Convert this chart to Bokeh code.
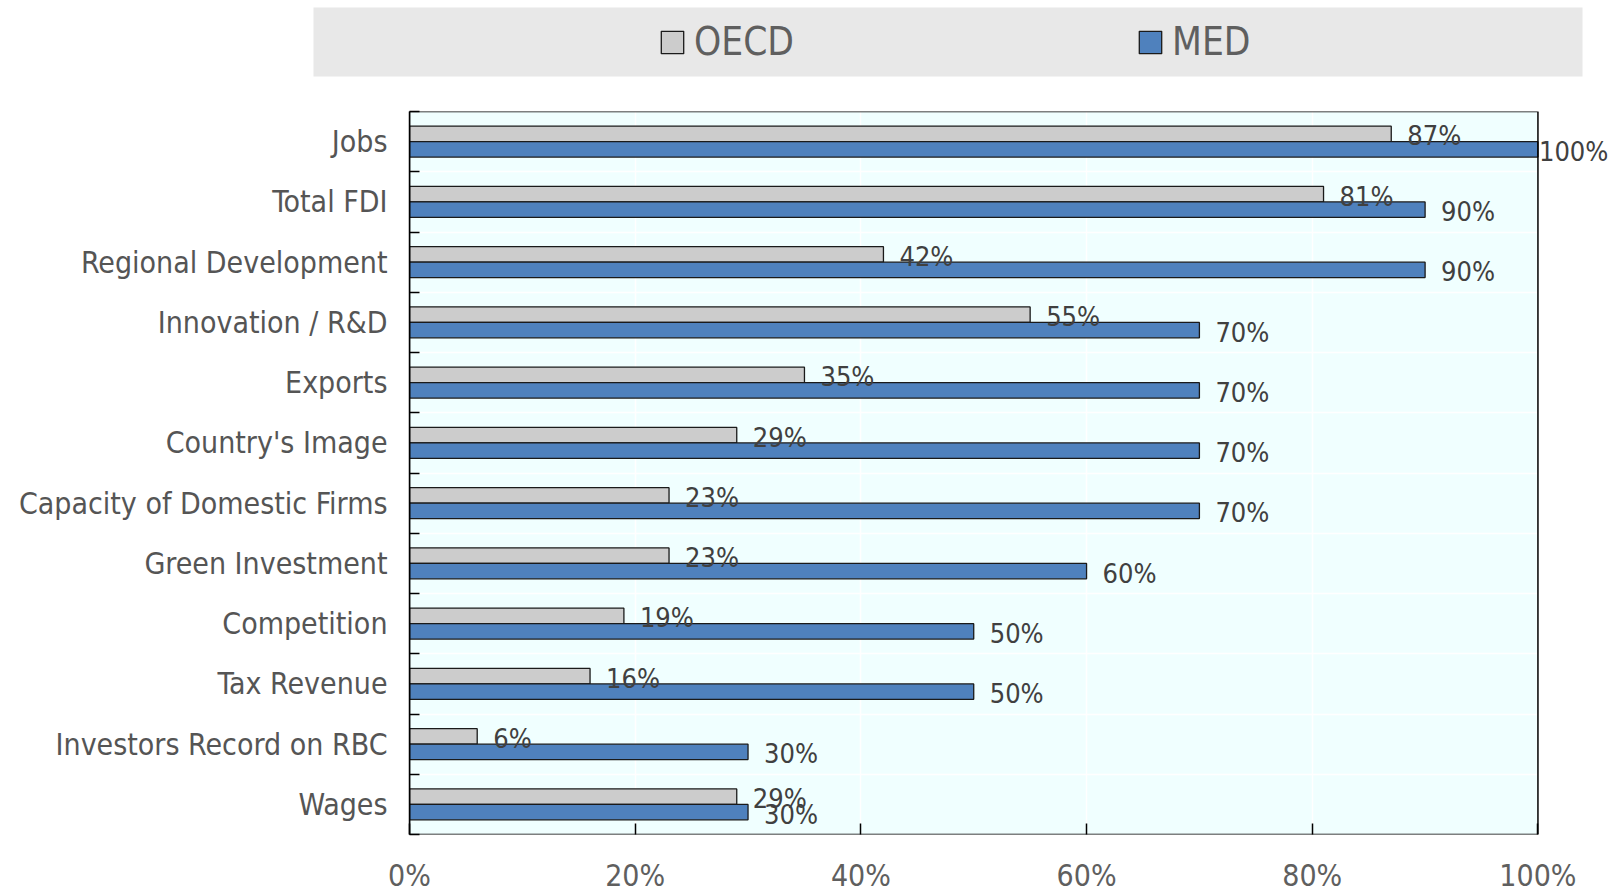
from bokeh.plotting import figure
from bokeh.models import (ColumnDataSource, Range1d, LinearAxis, FixedTicker, BoxAnnotation,
                          PrintfTickFormatter, LabelSet, Legend, LegendItem, Grid)
from bokeh.layouts import column
from bokeh.core.properties import value
from bokeh.embed import file_html
from bokeh.resources import INLINE

categories = ["Jobs", "Total FDI", "Regional Development", "Innovation / R&D", "Exports",
              "Country's Image", "Capacity of Domestic Firms", "Green Investment",
              "Competition", "Tax Revenue", "Investors Record on RBC", "Wages"]
oecd = [87, 81, 42, 55, 35, 29, 23, 23, 19, 16, 6, 29]
med = [100, 90, 90, 70, 70, 70, 70, 60, 50, 50, 30, 30]
x_ticks = [0, 20, 40, 60, 80, 100]
series_names = ["OECD", "MED"]

FONT = "DejaVu Sans Condensed"
TEXT_LAB = "#404040"
TEXT_CAT = "#555555"
TEXT_TICK = "#5F5F5F"
C_OECD = "#CCCCCC"
C_MED = "#4F81BD"
EDGE = "#1A1A1A"
BG = "#F0FFFF"

n = len(categories)
ypos = [n - 1 - i for i in range(n)]
bounds = [k - 0.5 for k in range(n + 1)]
half = 0.1285
bar_h = 0.257
x_max = x_ticks[-1]
x_view_end = 107.05  # leaves room at right for the end labels

src = ColumnDataSource(dict(
    cat=categories, y=ypos,
    y_o=[y + half for y in ypos], y_m=[y - half for y in ypos],
    oecd=oecd, med=med,
    lab_o=[f"{v}%" for v in oecd], lab_m=[f"{v}%" for v in med],
    off_o=[16 if v < x_max else 1 for v in oecd],
    off_m=[16 if v < x_max else 1 for v in med],
))

p = figure(width=1617, height=816, x_range=Range1d(0, x_view_end), y_range=Range1d(-0.5, n - 0.5),
           output_backend="svg", toolbar_location=None,
           x_axis_location=None, y_axis_location=None,
           min_border_left=409, min_border_right=0, min_border_top=31, min_border_bottom=62,
           background_fill_color="white", border_fill_color="white",
           outline_line_color=None)
p.frame_align = False
p.grid.visible = False  # drop the default grids

p.add_layout(BoxAnnotation(left=0, right=x_max, fill_color=BG, fill_alpha=1,
                           line_color=None, level="underlay"))
p.add_layout(Grid(dimension=0, ticker=FixedTicker(ticks=x_ticks), grid_line_color="white",
                  grid_line_width=1.5))
p.add_layout(Grid(dimension=1, ticker=FixedTicker(ticks=bounds), grid_line_color="white",
                  grid_line_width=1.5))

p.hbar(y="y_o", left=0, right="oecd", height=bar_h, fill_color=C_OECD, line_color=EDGE,
       line_width=1.3, source=src)
p.hbar(y="y_m", left=0, right="med", height=bar_h, fill_color=C_MED, line_color=EDGE,
       line_width=1.3, source=src)

p.add_layout(BoxAnnotation(left=0, right=x_max, fill_alpha=0, line_color="black",
                           line_alpha=1, line_width=1.5, level="annotation"))

for xf, yf, tf, of in (("oecd", "y_o", "lab_o", "off_o"), ("med", "y_m", "lab_m", "off_m")):
    p.add_layout(LabelSet(x=xf, y=yf, text=tf, x_offset=of, y_offset=-2, source=src,
                          text_baseline="middle", text_align="left",
                          text_font=value(FONT), text_font_size="27px", text_color=TEXT_LAB))

xaxis = LinearAxis(ticker=FixedTicker(ticks=x_ticks), formatter=PrintfTickFormatter(format="%d%%"),
                   major_tick_in=11, major_tick_out=0, minor_tick_line_color=None,
                   axis_line_color=None,
                   major_tick_line_color="black", major_tick_line_width=1.5,
                   major_label_text_font=FONT, major_label_text_font_size="30px",
                   major_label_text_color=TEXT_TICK, major_label_standoff=23)
p.add_layout(xaxis, "below")

yaxis = LinearAxis(ticker=FixedTicker(ticks=ypos, minor_ticks=bounds),
                   major_label_overrides={y: c for y, c in zip(ypos, categories)},
                   axis_line_color="black", axis_line_width=1.5,
                   major_tick_line_color=None,
                   minor_tick_in=10, minor_tick_out=0,
                   minor_tick_line_color="black", minor_tick_line_width=1.5,
                   major_label_text_font=FONT, major_label_text_font_size="30px",
                   major_label_text_color=TEXT_CAT, major_label_standoff=16)
p.add_layout(yaxis, "left")

# legend band
lf = figure(width=1617, height=80, x_range=Range1d(0, 1), y_range=Range1d(0, 1),
            output_backend="svg", toolbar_location=None,
            x_axis_location=None, y_axis_location=None,
            min_border_left=313, min_border_right=35, min_border_top=7, min_border_bottom=4,
            background_fill_color="#E8E8E8", border_fill_color="white", outline_line_color=None)
lf.frame_align = False
lf.grid.visible = False
r1 = lf.hbar(y="y_o", right="oecd", height=bar_h, fill_color=C_OECD, line_color=EDGE,
             line_width=1.3, source=src, visible=False)
r2 = lf.hbar(y="y_m", right="med", height=bar_h, fill_color=C_MED, line_color=EDGE,
             line_width=1.3, source=src, visible=False)
legend = Legend(items=[LegendItem(label=series_names[0], renderers=[r1]),
                       LegendItem(label=series_names[1], renderers=[r2])],
                orientation="horizontal", location=(345, 12), spacing=342,
                glyph_width=28, glyph_height=28, label_standoff=8,
                label_text_font=FONT, label_text_font_size="38.5px", label_text_color=TEXT_TICK,
                background_fill_alpha=0, border_line_alpha=0, padding=0, margin=0,
                inactive_fill_alpha=0)
lf.add_layout(legend, "center")

layout = column(lf, p, spacing=0)
open("out.html", "w").write(file_html(layout, INLINE))
